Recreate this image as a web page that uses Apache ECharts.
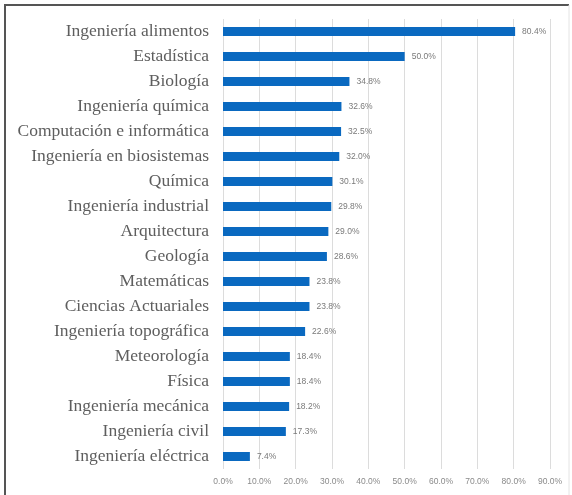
<!DOCTYPE html>
<html>
<head>
<meta charset="utf-8">
<script src="https://cdn.jsdelivr.net/npm/echarts@6/dist/echarts.min.js"></script>
<style>
  html, body { margin: 0; padding: 0; background: #ffffff; }
  #chart { width: 572px; height: 495px; }
</style>
</head>
<body>
<div id="chart"></div>
<script>
// Carreras, de mayor a menor porcentaje
const carreras = [
  "Ingeniería alimentos",
  "Estadística",
  "Biología",
  "Ingeniería química",
  "Computación e informática",
  "Ingeniería en biosistemas",
  "Química",
  "Ingeniería industrial",
  "Arquitectura",
  "Geología",
  "Matemáticas",
  "Ciencias Actuariales",
  "Ingeniería topográfica",
  "Meteorología",
  "Física",
  "Ingeniería mecánica",
  "Ingeniería civil",
  "Ingeniería eléctrica"
];
const porcentajes = [80.4, 50.0, 34.8, 32.6, 32.5, 32.0, 30.1, 29.8, 29.0, 28.6, 23.8, 23.8, 22.6, 18.4, 18.4, 18.2, 17.3, 7.4];
const ejeMin = 0;
const ejeMax = 90;
const ejePaso = 10;

const chart = echarts.init(document.getElementById('chart'), null, { renderer: 'canvas' });

chart.setOption({
  backgroundColor: '#ffffff',
  animation: false,
  graphic: [
    {
      type: 'polyline',
      shape: { points: [[5, 500], [5, 5], [569, 5]] },
      style: { stroke: '#555555', lineWidth: 2, fill: null },
      z: 10
    },
    {
      type: 'line',
      shape: { x1: 569, y1: 5, x2: 569, y2: 500 },
      style: { stroke: '#e4e4e4', lineWidth: 1 },
      z: 10
    }
  ],
  grid: { left: 223, right: 22, top: 19, height: 450, containLabel: false },
  xAxis: {
    type: 'value',
    min: ejeMin,
    max: ejeMax,
    interval: ejePaso,
    axisLine: { show: false },
    axisTick: { show: false },
    splitLine: { show: true, lineStyle: { color: '#dcdcdc', width: 1 } },
    axisLabel: {
      formatter: v => v.toFixed(1) + '%',
      fontFamily: 'Liberation Sans',
      fontSize: 8.5,
      color: '#8a8a8a',
      margin: 8
    }
  },
  yAxis: {
    type: 'category',
    data: carreras,
    inverse: true,
    axisLine: { show: false },
    axisTick: { show: false },
    axisLabel: {
      fontFamily: 'Liberation Serif',
      fontSize: 17.5,
      color: '#5e5e5e',
      margin: 14
    }
  },
  series: [
    {
      type: 'bar',
      data: porcentajes,
      barWidth: 9,
      itemStyle: { color: '#0a69c0' },
      label: {
        show: true,
        position: 'right',
        distance: 7,
        formatter: p => p.value.toFixed(1) + '%',
        fontFamily: 'Liberation Sans',
        fontSize: 8.5,
        color: '#7a7a7a'
      }
    }
  ]
});
</script>
</body>
</html>
